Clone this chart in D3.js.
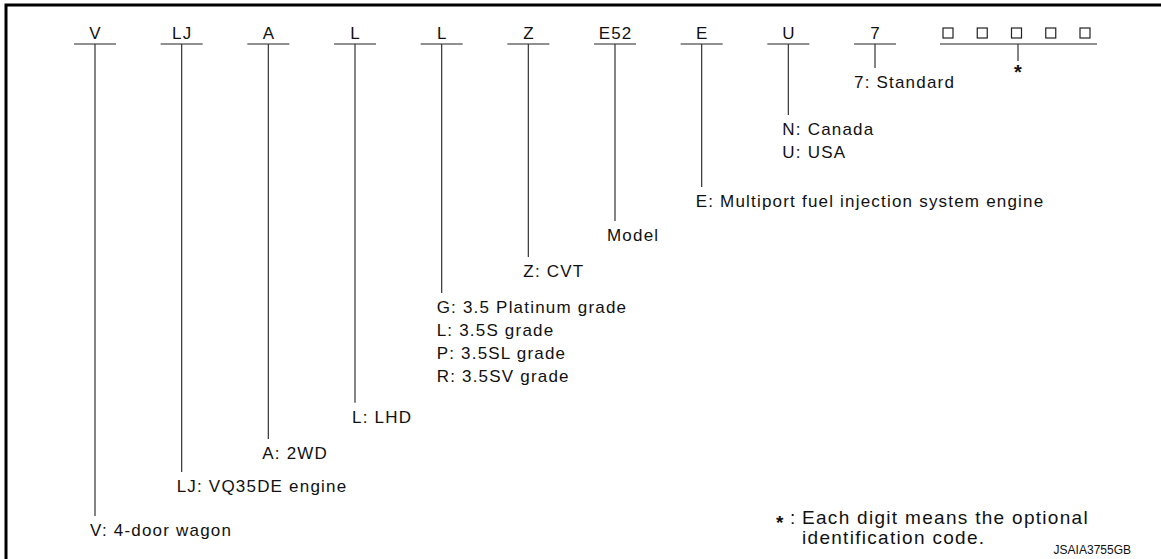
<!DOCTYPE html>
<html>
<head>
<meta charset="utf-8">
<script src="https://cdn.jsdelivr.net/npm/d3@7"></script>
<style>
  body { margin: 0; background: #fff; }
  text { font-family: "Liberation Sans", Arial, sans-serif; fill: #111; }
</style>
</head>
<body>
<div id="chart"></div>
<script>
;(function () {
    const width = 1161, height = 559;

    // code letters, left to right
    const codes = ["V", "LJ", "A", "L", "L", "Z", "E52", "E", "U", "7"];
    // how far down each leader goes (in text lines)
    const depths = [21, 19.04, 17.57, 15.96, 11.08, 9.48, 7.87, 6.36, 3.16, 1.07];
    // what each code means
    const meanings = [
        ["V: 4-door wagon"],
        ["LJ: VQ35DE engine"],
        ["A: 2WD"],
        ["L: LHD"],
        ["G: 3.5 Platinum grade", "L: 3.5S grade", "P: 3.5SL grade", "R: 3.5SV grade"],
        ["Z: CVT"],
        ["Model"],
        ["E: Multiport fuel injection system engine"],
        ["N: Canada", "U: USA"],
        ["7: Standard"]
    ];
    const labelShift = [-5, -5, -6, -3, -5, -5, -8, -6, -6, -21];
    const optionalDigits = 5;
    const note = ["Each digit means the optional", "identification code."];
    const figureId = "JSAIA3755GB";

    const svg = d3.select("#chart").append("svg")
        .attr("width", width)
        .attr("height", height);

    // frame (top and left only)
    svg.append("path")
        .attr("d", "M6,559 V5 H1161")
        .attr("fill", "none")
        .attr("stroke", "#000")
        .attr("stroke-width", 3);

    const xScale = d3.scaleLinear().domain([0, 9]).range([95, 875]);
    const yScale = d3.scaleLinear().domain([0, 21]).range([44, 516]);
    const lineH = 23;
    const halfBar = 21;

    const cols = svg.selectAll("g.col")
        .data(codes)
        .enter()
        .append("g")
        .attr("class", "col")
        .attr("transform", (d, i) => "translate(" + xScale(i) + ",0)");

    cols.append("text")
        .text(d => d)
        .attr("x", 0.6)
        .attr("y", 39)
        .attr("text-anchor", "middle")
        .style("font-size", "17px")
        .style("letter-spacing", "1.2px");

    cols.append("line")
        .attr("x1", -halfBar).attr("x2", halfBar)
        .attr("y1", yScale(0)).attr("y2", yScale(0))
        .attr("stroke", "#222").attr("stroke-width", 1.2);

    cols.append("line")
        .attr("x1", 0).attr("x2", 0)
        .attr("y1", yScale(0))
        .attr("y2", (d, i) => yScale(depths[i]))
        .attr("stroke", "#333").attr("stroke-width", 1.2);

    cols.each(function (d, i) {
        const g = d3.select(this);
        meanings[i].forEach((m, k) => {
            g.append("text")
                .text(m)
                .attr("x", labelShift[i])
                .attr("y", yScale(depths[i]) + 20 + k * lineH)
                .style("font-size", "17px")
                .style("letter-spacing", "1.2px");
        });
    });

    // optional identification digits
    const boxCol = 10.65;
    const boxX = d3.scaleLinear().domain([0, optionalDigits - 1])
        .range([xScale(boxCol) - 70, xScale(boxCol) + 67]);
    const boxes = svg.append("g");
    boxes.selectAll("rect")
        .data(d3.range(optionalDigits))
        .enter()
        .append("rect")
        .attr("x", d => boxX(d) - 5)
        .attr("y", 28)
        .attr("width", 10)
        .attr("height", 10)
        .attr("fill", "none")
        .attr("stroke", "#222")
        .attr("stroke-width", 1.2);
    boxes.append("line")
        .attr("x1", xScale(boxCol) - 78).attr("x2", xScale(boxCol) + 79)
        .attr("y1", yScale(0)).attr("y2", yScale(0))
        .attr("stroke", "#222").attr("stroke-width", 1.2);
    boxes.append("line")
        .attr("x1", xScale(boxCol)).attr("x2", xScale(boxCol))
        .attr("y1", yScale(0)).attr("y2", 61)
        .attr("stroke", "#333").attr("stroke-width", 1.2);
    boxes.append("text")
        .text("*")
        .attr("x", xScale(boxCol))
        .attr("y", 79)
        .attr("text-anchor", "middle")
        .style("font-size", "20px")
        .style("font-weight", "bold");

    // footnote
    svg.append("text")
        .text("*")
        .attr("x", 776).attr("y", 529)
        .style("font-size", "19px").style("font-weight", "bold");
    svg.append("text")
        .text(":")
        .attr("x", 790).attr("y", 524)
        .style("font-size", "19px");
    note.forEach((t, k) => {
        svg.append("text")
            .text(t)
            .attr("x", 802)
            .attr("y", 524 + k * 19.5)
            .style("font-size", "19px")
            .style("letter-spacing", "1.3px");
    });
    svg.append("text")
        .text(figureId)
        .attr("x", 1131).attr("y", 554)
        .attr("text-anchor", "end")
        .style("font-size", "12px");
})()
</script>
</body>
</html>
